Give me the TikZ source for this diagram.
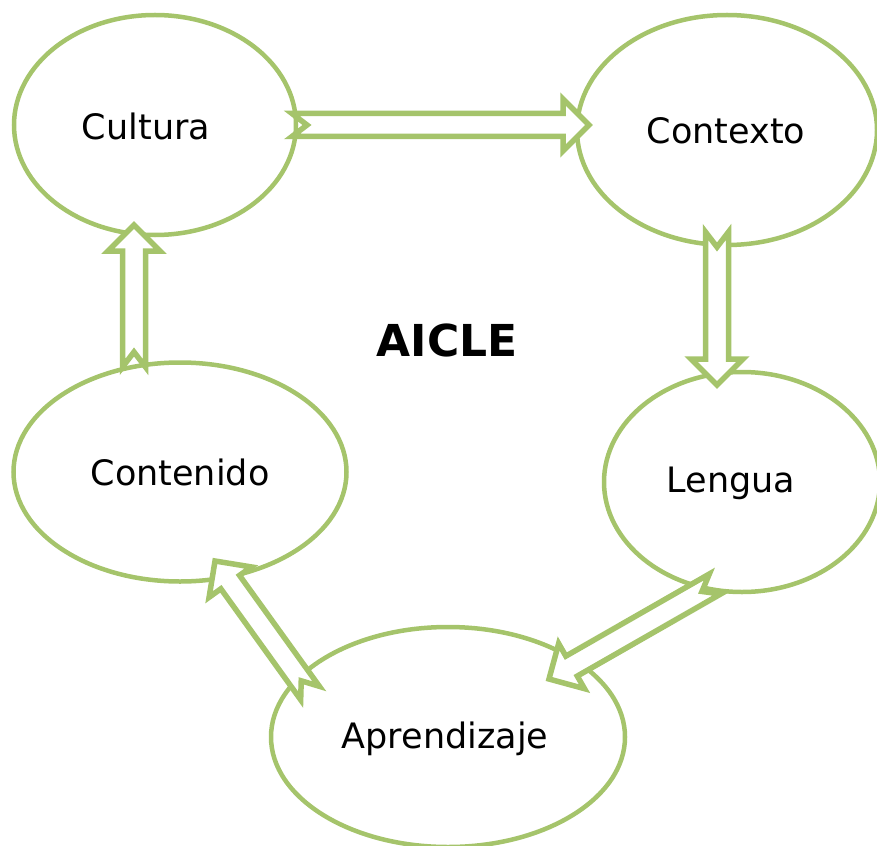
\documentclass[tikz,border=0pt]{standalone}
\usepackage{fontspec}
\setmainfont{DejaVu Sans}
\usetikzlibrary{shapes.geometric,calc}
\definecolor{olive}{HTML}{A5C46B}
\tikzset{
  bubble/.style={ellipse, draw=olive, line width=4.5pt, fill=white, inner sep=0pt},
  lbl/.style={font=\fontsize{35}{38}\selectfont, text=black},
  blockarr/.style={draw=olive, line width=5.5pt, fill=white, line join=miter},
}
% #1 tail, #2 tip
\newcommand\blkarrow[2]{%
  \draw[blockarr]
    ($(#1)!0pt!(#2)!11.5pt!90:(#2)$) --
    ($(#2)!26pt!(#1)!11.5pt!-90:(#1)$) --
    ($(#2)!26pt!(#1)!26pt!-90:(#1)$) --
    (#2) --
    ($(#2)!26pt!(#1)!26pt!90:(#1)$) --
    ($(#2)!26pt!(#1)!11.5pt!90:(#1)$) --
    ($(#1)!0pt!(#2)!11.5pt!-90:(#2)$) --
    ($(#1)!15pt!(#2)$) -- cycle;
}
\begin{document}
\begin{tikzpicture}[x=1pt,y=-1pt]
\useasboundingbox (0,0) rectangle (877,845);
\clip (0,0) rectangle (877,845);
\node[bubble, minimum width=282pt, minimum height=220pt] (cul) at (155,125) {};
\node[bubble, minimum width=300pt, minimum height=230pt] (ctx) at (727,130) {};
\node[bubble, minimum width=276pt, minimum height=220pt] (len) at (742,482) {};
\node[bubble, minimum width=333pt, minimum height=219pt] (con) at (180,472) {};
\node[bubble, minimum width=354pt, minimum height=220pt] (apr) at (448,737) {};
\node[lbl] (tcul) at (146,126) {Cultura};
\node[lbl] (tctx) at (726,131) {Contexto};
\node[lbl] (tlen) at (731,483) {Lengua};
\node[lbl] (tcon) at (180,472) {Contenido};
\node[lbl] (tapr) at (445,739) {Aprendizaje};
\node[font=\fontsize{44}{48}\selectfont\bfseries] (aicle) at (447,340) {AICLE};
\coordinate (a1t) at (292,125); \coordinate (a1h) at (589,125);
\coordinate (a2t) at (717,232); \coordinate (a2h) at (717,385);
\coordinate (a3t) at (715,584); \coordinate (a3h) at (549,679);
\coordinate (a4t) at (310,693); \coordinate (a4h) at (215,561);
\coordinate (a5t) at (134,367); \coordinate (a5h) at (134,225);
\blkarrow{a1t}{a1h}
\blkarrow{a2t}{a2h}
\blkarrow{a3t}{a3h}
\blkarrow{a4t}{a4h}
\blkarrow{a5t}{a5h}
\end{tikzpicture}
\end{document}
